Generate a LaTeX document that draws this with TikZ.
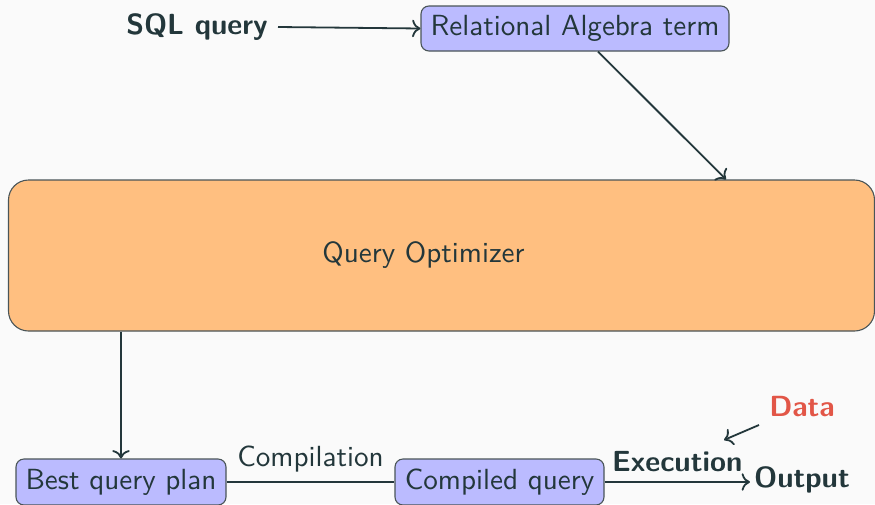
\documentclass[tikz,border=0pt]{standalone}
\usepackage{graphicx}
\usetikzlibrary{arrows.meta}
\definecolor{fg}{HTML}{23373B}
\definecolor{bg}{HTML}{FAFAFA}
\definecolor{boxblue}{RGB}{187,187,255}
\definecolor{boxorange}{RGB}{255,191,128}
\definecolor{alertred}{RGB}{226,86,71}
\definecolor{edge}{HTML}{4A5558}
\newcommand\bigtxt[1]{\scalebox{2.66}{\fontsize{10.95}{13}\selectfont\sffamily #1}}
\newcommand\bigbf[1]{\scalebox{2.66}{\fontsize{10.95}{13}\selectfont\sffamily\bfseries #1}}
\begin{document}
\begin{tikzpicture}[x=1pt,y=-1pt,
  every node/.style={text=fg},
  bluebox/.style={draw=edge, line width=1.1pt, fill=boxblue, rounded corners=8pt, inner sep=0pt},
  optbox/.style={draw=edge, line width=1.1pt, fill=boxorange, rounded corners=20pt, inner sep=0pt},
  conn/.style={draw=fg, line width=1.8pt},
  arr/.style={conn, -{To[scale=1.5]}}
]
\fill[bg] (0,0) rectangle (875,504);
\useasboundingbox (0,0) rectangle (875,504);

\node (sql) at (197,27) {\bigbf{SQL query}};
\node[bluebox, minimum width=308pt, minimum height=45pt] (rel) at (575,28.5) {\bigtxt{Relational Algebra term}};
\node[optbox, minimum width=866pt, minimum height=151pt] (opt) at (441.5,255.5) {\hspace*{-36pt}\bigtxt{Query Optimizer}};
\node[bluebox, minimum width=210pt, minimum height=46pt] (best) at (121,482) {\bigtxt{Best query plan}};
\node[bluebox, minimum width=209pt, minimum height=46pt] (comp) at (499.5,482) {\bigtxt{Compiled query}};
\node[inner sep=4pt] (out) at (802,480) {\bigbf{Output}};
\node (data) at (802,407) {\textcolor{alertred}{\bigbf{Data}}};
\coordinate (dataend) at (724,440);
\coordinate (datastart) at (759,425);
\coordinate (sqlstart) at (278,27);

\draw[arr] (sqlstart) -- (rel.west);
\draw[arr] ([xshift=23pt]rel.south) -- ([xshift=284.5pt]opt.north);
\draw[arr] ([xshift=-320.5pt]opt.south) -- (best.north);
\draw[conn] (best.east) -- node[above=9pt, inner sep=0pt] (complab) {\bigtxt{Compilation}} (comp.west);
\draw[arr] (comp.east) -- node[above=9pt, inner sep=0pt] (exec) {\bigbf{Execution}} (out.west |- comp.east);
\draw[arr] (datastart) -- (dataend);
\end{tikzpicture}
\end{document}
